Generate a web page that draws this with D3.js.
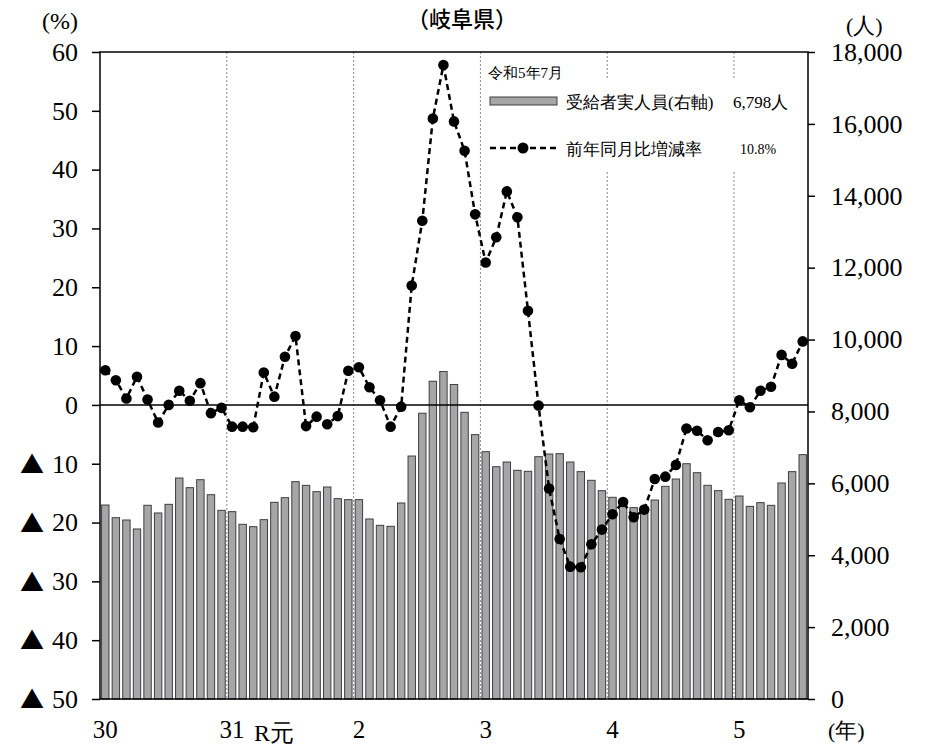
<!DOCTYPE html>
<html>
<head>
<meta charset="utf-8">
<script src="https://cdn.jsdelivr.net/npm/d3@7"></script>
<style>
    html, body { margin: 0; padding: 0; background: #fff; }
    svg { display: block; }
    .serif { font-family: 'Liberation Serif', 'DejaVu Serif', 'Times New Roman', serif; }
</style>
</head>
<body>
<svg id="chart" width="926" height="745"></svg>
<script>
// Months run from H30 January to R5 July (67 months):
const year_labels = ['30', '31', '2', '3', '4', '5'];

// Recipients (persons, right axis):
const recipients = [
    5397, 5044, 4980, 4730, 5389, 5175, 5416, 6148, 5879, 6101, 5684, 5249,
    5212, 4860, 4794, 4989, 5472, 5601, 6046, 5944, 5768, 5898, 5574, 5546,
    5546, 5008, 4832, 4804, 5453, 6760, 7950, 8840, 9110, 8750, 7975, 7355,
    6881, 6463, 6593, 6362, 6334, 6741, 6816, 6825, 6593, 6325, 6084, 5796,
    5611, 5470, 5323, 5258, 5536, 5917, 6120, 6546, 6296, 5945, 5796, 5555,
    5647, 5360, 5462, 5388, 6009, 6325, 6798
];

// Year-over-year change (%, left axis):
const change_rate = [
    5.9, 4.2, 1.1, 4.8, 0.9, -3.0, 0.0, 2.4, 0.7, 3.7, -1.4, -0.5,
    -3.7, -3.7, -3.8, 5.5, 1.4, 8.2, 11.7, -3.6, -2.0, -3.3, -1.9, 5.8,
    6.4, 3.0, 0.8, -3.7, -0.3, 20.3, 31.3, 48.7, 57.8, 48.2, 43.2, 32.4,
    24.2, 28.5, 36.3, 31.9, 16.0, -0.1, -14.2, -22.8, -27.5, -27.6, -23.7, -21.2,
    -18.6, -16.5, -19.1, -17.8, -12.6, -12.2, -10.2, -4.0, -4.4, -6.0, -4.6, -4.3,
    0.8, -0.4, 2.4, 3.1, 8.5, 7.0, 10.8
];

const left_ticks = [60, 50, 40, 30, 20, 10, 0, -10, -20, -30, -40, -50];
const right_ticks = [0, 2000, 4000, 6000, 8000, 10000, 12000, 14000, 16000, 18000];

const legend_title = '令和5年7月';
const legend_bar_label = '受給者実人員(右軸)';
const legend_line_label = '前年同月比増減率';

const gothic_font = '"Noto Sans CJK JP", "Noto Sans", sans-serif';

const margin = { left: 100, right: 808, top: 52, bottom: 699 };
const svg = d3.select('#chart');

// Scales:
const months = d3.range(recipients.length);
const x = d3.scaleBand().domain(months)
    .range([margin.left, margin.right]).paddingInner(0.3).paddingOuter(0.15);
const y_rate = d3.scaleLinear().domain([-50, 60]).range([margin.bottom, margin.top]);
const y_people = d3.scaleLinear().domain([0, 18000]).range([margin.bottom, margin.top]);
const cx = (i) => x(i) + x.bandwidth() / 2;

// Year gridlines (dotted):
const year_starts = year_labels.map((d, k) => k * 12);
svg.append('g').selectAll('line')
    .data(year_starts.slice(1))
    .join('line')
    .attr('x1', (i) => margin.left + i * x.step())
    .attr('x2', (i) => margin.left + i * x.step())
    .attr('y1', margin.top).attr('y2', margin.bottom)
    .attr('stroke', '#8a8a8a').attr('stroke-width', 1)
    .attr('stroke-dasharray', '2,2');

// Bars:
svg.append('g').selectAll('rect')
    .data(recipients)
    .join('rect')
    .attr('x', (d, i) => x(i))
    .attr('width', x.bandwidth())
    .attr('y', (d) => y_people(d))
    .attr('height', (d) => y_people(0) - y_people(d))
    .attr('fill', '#a6a6a6')
    .attr('stroke', '#3c3f44').attr('stroke-width', 1);

// Zero line:
svg.append('line')
    .attr('x1', margin.left).attr('x2', margin.right)
    .attr('y1', y_rate(0)).attr('y2', y_rate(0))
    .attr('stroke', '#000').attr('stroke-width', 1.5);

// Legend background hides the gridlines:
svg.append('rect')
    .attr('x', 482).attr('y', 79).attr('width', 322).attr('height', 93)
    .attr('fill', '#fff');

// Rate line with markers:
const line = d3.line().x((d, i) => cx(i)).y((d) => y_rate(d));
svg.append('path')
    .datum(change_rate)
    .attr('d', line)
    .attr('fill', 'none').attr('stroke', '#000')
    .attr('stroke-width', 2.5).attr('stroke-dasharray', '6,4');
svg.append('g').selectAll('circle')
    .data(change_rate)
    .join('circle')
    .attr('cx', (d, i) => cx(i))
    .attr('cy', (d) => y_rate(d))
    .attr('r', 5.3)
    .attr('fill', '#000');

// Frame:
svg.append('rect')
    .attr('x', margin.left).attr('y', margin.top)
    .attr('width', margin.right - margin.left)
    .attr('height', margin.bottom - margin.top)
    .attr('fill', 'none').attr('stroke', '#000').attr('stroke-width', 1.5);

// Left axis:
const left_axis = svg.append('g')
    .attr('transform', `translate(${margin.left},0)`)
    .call(d3.axisLeft(y_rate).tickValues(left_ticks)
        .tickSize(8).tickPadding(14)
        .tickFormat((d) => Math.abs(d)));
left_axis.select('.domain').remove();
left_axis.attr('font-family', null).attr('font-size', null);
left_axis.selectAll('text')
    .attr('class', 'serif').attr('font-size', 26).attr('fill', '#000');
left_axis.selectAll('.tick').filter((d) => d < 0)
    .append('text')
    .attr('x', -80).attr('dy', '0.36em')
    .attr('text-anchor', 'start')
    .attr('font-family', gothic_font).attr('font-size', 24).attr('fill', '#000')
    .text('▲');

// Right axis:
const right_axis = svg.append('g')
    .attr('transform', `translate(${margin.right},0)`)
    .call(d3.axisRight(y_people).tickValues(right_ticks)
        .tickSize(7).tickPadding(16)
        .tickFormat(d3.format(',')));
right_axis.select('.domain').remove();
right_axis.attr('font-family', null).attr('font-size', null);
right_axis.selectAll('text')
    .attr('class', 'serif').attr('font-size', 26).attr('fill', '#000');
svg.selectAll('.tick line').attr('stroke', '#000').attr('stroke-width', 1.5);

// Year labels under January bars:
svg.append('g').selectAll('text')
    .data(year_labels)
    .join('text')
    .attr('class', 'serif')
    .attr('x', (d, k) => cx(year_starts[k]))
    .attr('y', 738)
    .attr('text-anchor', 'middle')
    .attr('font-size', 25)
    .text((d) => d);
svg.append('text')
    .attr('class', 'serif')
    .attr('x', cx(12) + 22).attr('y', 741)
    .attr('font-size', 24)
    .text('R元');

// Unit labels and title:
svg.append('text').attr('class', 'serif').attr('x', 42).attr('y', 29)
    .attr('font-size', 24).text('(%)');
svg.append('text').attr('class', 'serif').attr('x', 846).attr('y', 33)
    .attr('font-size', 22).text('(人)');
svg.append('text').attr('class', 'serif').attr('x', 828).attr('y', 738)
    .attr('font-size', 22).text('(年)');
svg.append('text').attr('x', 462).attr('y', 27)
    .attr('text-anchor', 'middle')
    .attr('font-family', gothic_font).attr('font-size', 22).attr('font-weight', 500)
    .text('（岐阜県）');

// Legend:
const legend = svg.append('g').attr('fill', '#000');
legend.append('text').attr('class', 'serif').attr('x', 488).attr('y', 78)
    .attr('font-size', 15).text(legend_title);
legend.append('rect')
    .attr('x', 490).attr('y', 97).attr('width', 67).attr('height', 8)
    .attr('fill', '#a6a6a6').attr('stroke', '#3c3f44').attr('stroke-width', 1);
legend.append('text').attr('class', 'serif').attr('x', 566).attr('y', 108)
    .attr('font-size', 17).text(legend_bar_label);
legend.append('text').attr('class', 'serif').attr('x', 733).attr('y', 108)
    .attr('font-size', 17).text(d3.format(',')(recipients[recipients.length - 1]) + '人');
legend.append('line')
    .attr('x1', 490).attr('x2', 557).attr('y1', 148).attr('y2', 148)
    .attr('stroke', '#000').attr('stroke-width', 2.5).attr('stroke-dasharray', '6,4');
legend.append('circle').attr('cx', 523).attr('cy', 148).attr('r', 5.5).attr('fill', '#000');
legend.append('text').attr('class', 'serif').attr('x', 566).attr('y', 155)
    .attr('font-size', 17).text(legend_line_label);
legend.append('text').attr('class', 'serif').attr('x', 740).attr('y', 154)
    .attr('font-size', 14).text(change_rate[change_rate.length - 1] + '%');
</script>
</body>
</html>
